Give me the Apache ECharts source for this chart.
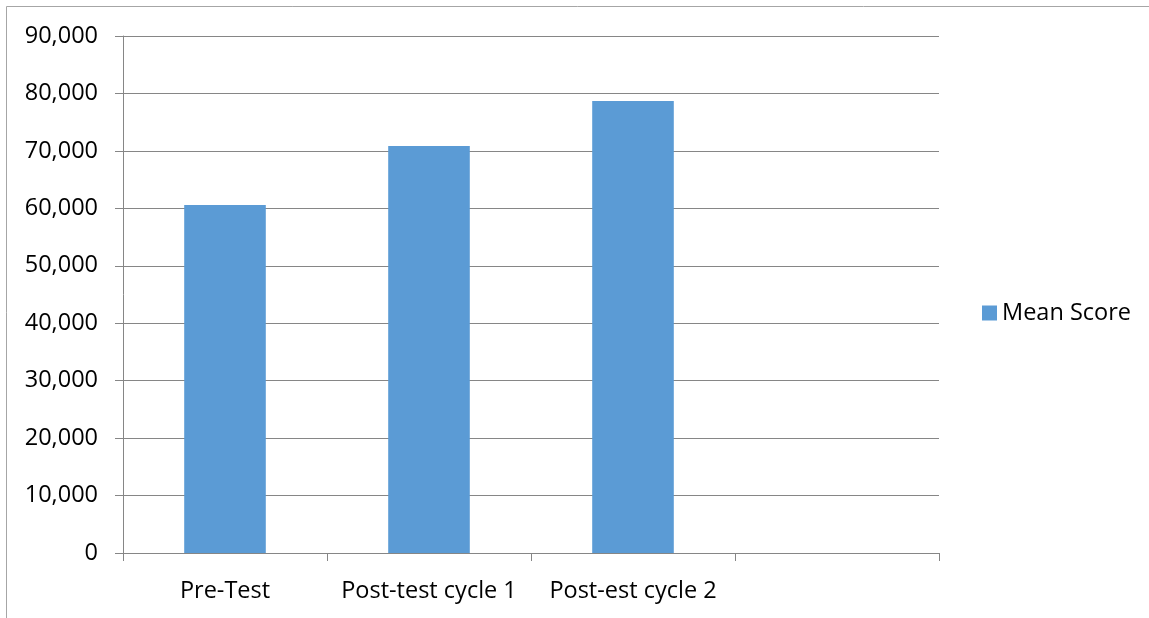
<!DOCTYPE html>
<html>
<head>
<meta charset="utf-8">
<script src="https://cdn.jsdelivr.net/npm/echarts@6/dist/echarts.min.js"></script>
<style>
  html, body { margin: 0; padding: 0; background: #fff; }
  #main { width: 1149px; height: 618px; }
</style>
</head>
<body>
<div id="main"></div>
<script>
// data
var categories = ['Pre-Test', 'Post-test cycle 1', 'Post-est cycle 2', ''];
var meanScore = [60600, 70850, 78680, null];
var seriesName = 'Mean Score';

var chart = echarts.init(document.getElementById('main'));
var font = 'Open Sans';
var axisGrey = '#868686';
var labelSize = 23.5;

var option = {
    animation: false,
    textStyle: { fontFamily: font },
    graphic: [{
        type: 'polyline',
        shape: { points: [[6.5, 618], [6.5, 6.5], [1149, 6.5]] },
        style: { stroke: '#a6a6a6', lineWidth: 1, fill: null }
    }],
    grid: { left: 123, right: 210, top: 36, bottom: 65 },
    legend: {
        left: 982,
        top: 301,
        padding: 0,
        orient: 'vertical',
        icon: 'rect',
        itemWidth: 15,
        itemHeight: 15,
        itemGap: 7,
        textStyle: { fontSize: labelSize, color: '#000', fontFamily: font },
        data: [seriesName]
    },
    xAxis: {
        type: 'category',
        data: categories,
        axisLine: { lineStyle: { color: axisGrey } },
        axisTick: { show: true, length: 8, lineStyle: { color: axisGrey } },
        axisLabel: { color: '#000', fontSize: labelSize, margin: 26, interval: 0 }
    },
    yAxis: {
        type: 'value',
        min: 0,
        max: 90000,
        interval: 10000,
        axisLine: { show: true, lineStyle: { color: axisGrey } },
        axisTick: { show: true, length: 8, lineStyle: { color: axisGrey } },
        splitLine: { lineStyle: { color: axisGrey } },
        axisLabel: { color: '#000', fontSize: labelSize, margin: 25 }
    },
    series: [{
        name: seriesName,
        type: 'bar',
        data: meanScore,
        barWidth: '40%',
        itemStyle: { color: '#5b9bd5' }
    }]
};

chart.setOption(option);
</script>
</body>
</html>
